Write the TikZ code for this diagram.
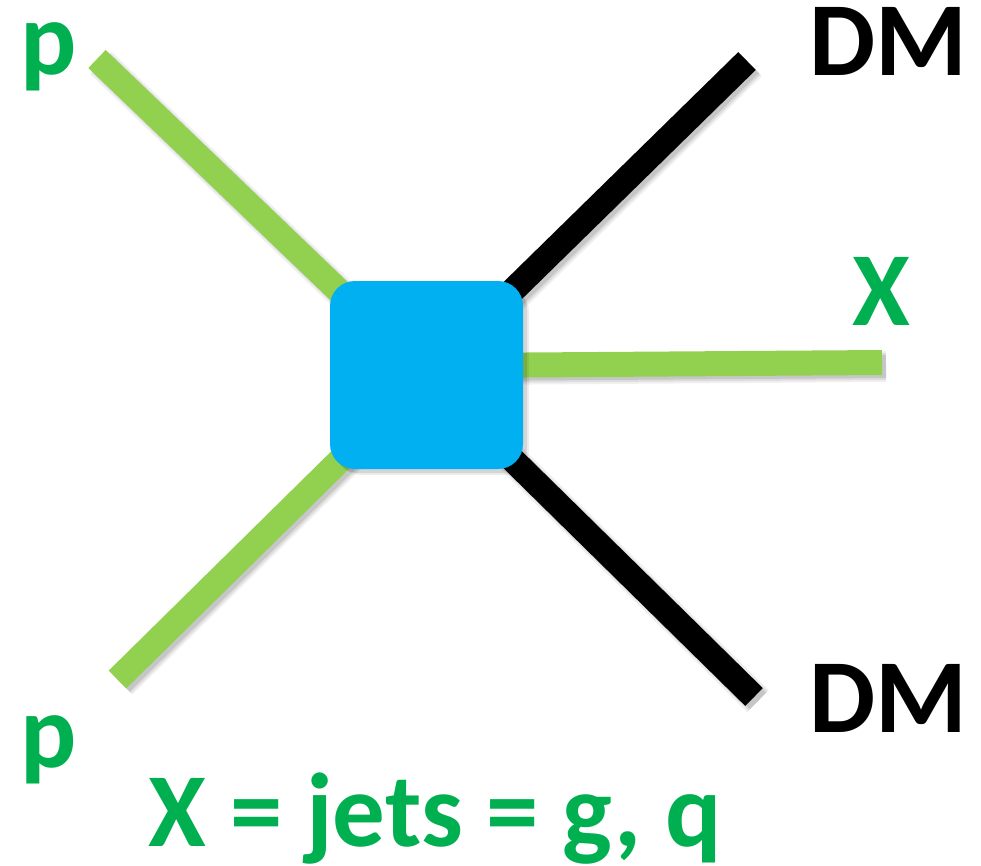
\documentclass[tikz,border=0pt]{standalone}
\usepackage{fontspec}
\setmainfont{Carlito}
\definecolor{txtgreen}{HTML}{00B050}
\definecolor{lngreen}{HTML}{92D050}
\definecolor{boxblue}{HTML}{00B0F0}
\begin{document}
\begin{tikzpicture}[x=1pt,y=-1pt,
  shadowed/.style={
    preaction={draw=black,opacity=0.06,line width=31pt,transform canvas={shift={(4pt,-4pt)}}},
    preaction={draw=black,opacity=0.08,line width=27pt,transform canvas={shift={(4pt,-4pt)}}},
    preaction={draw=black,opacity=0.10,line width=23pt,transform canvas={shift={(4pt,-4pt)}}}},
  leg/.style={line width=25pt,line cap=butt,shadowed},
  greenleg/.style={leg,draw=lngreen},
  blackleg/.style={leg,draw=black},
  lbl/.style={font=\fontsize{105}{120}\selectfont\bfseries,inner sep=0pt,anchor=base},
  vertex/.style={fill=boxblue,rounded corners=25pt,minimum width=193pt,minimum height=188pt,inner sep=0pt,
    preaction={fill=black,opacity=0.07,transform canvas={shift={(6pt,-6pt)}}},
    preaction={fill=black,opacity=0.10,transform canvas={shift={(4pt,-4pt)}}}}
]
\useasboundingbox (0,0) rectangle (981,865);
\coordinate (pin1) at (97,59);
\coordinate (pin2) at (117.5,679.5);
\coordinate (dm1) at (747,61);
\coordinate (dm2) at (754,697);
\coordinate (xout) at (882,362.5);
\coordinate (xin) at (440,365.6);
\coordinate (c) at (426.5,375);

\draw[greenleg] (pin1) -- (c);
\draw[greenleg] (pin2) -- (c);
\draw[blackleg] (dm1) -- (c);
\draw[blackleg] (dm2) -- (c);
\draw[greenleg] (xin) -- (xout);

\node[vertex] (box) at (c) {};

\node[lbl,text=txtgreen] (p1) at (49,74) {p};
\node[lbl,text=txtgreen] (p2) at (49,767) {p};
\node[lbl,text=black] (dmlab1) at (888,75) {DM};
\node[lbl,text=black] (dmlab2) at (888,732) {DM};
\node[lbl,text=txtgreen] (xlab) at (881,325) {X};
\node[lbl,text=txtgreen] (eq) at (435,846) {X = jets = g, q};
\end{tikzpicture}
\end{document}
